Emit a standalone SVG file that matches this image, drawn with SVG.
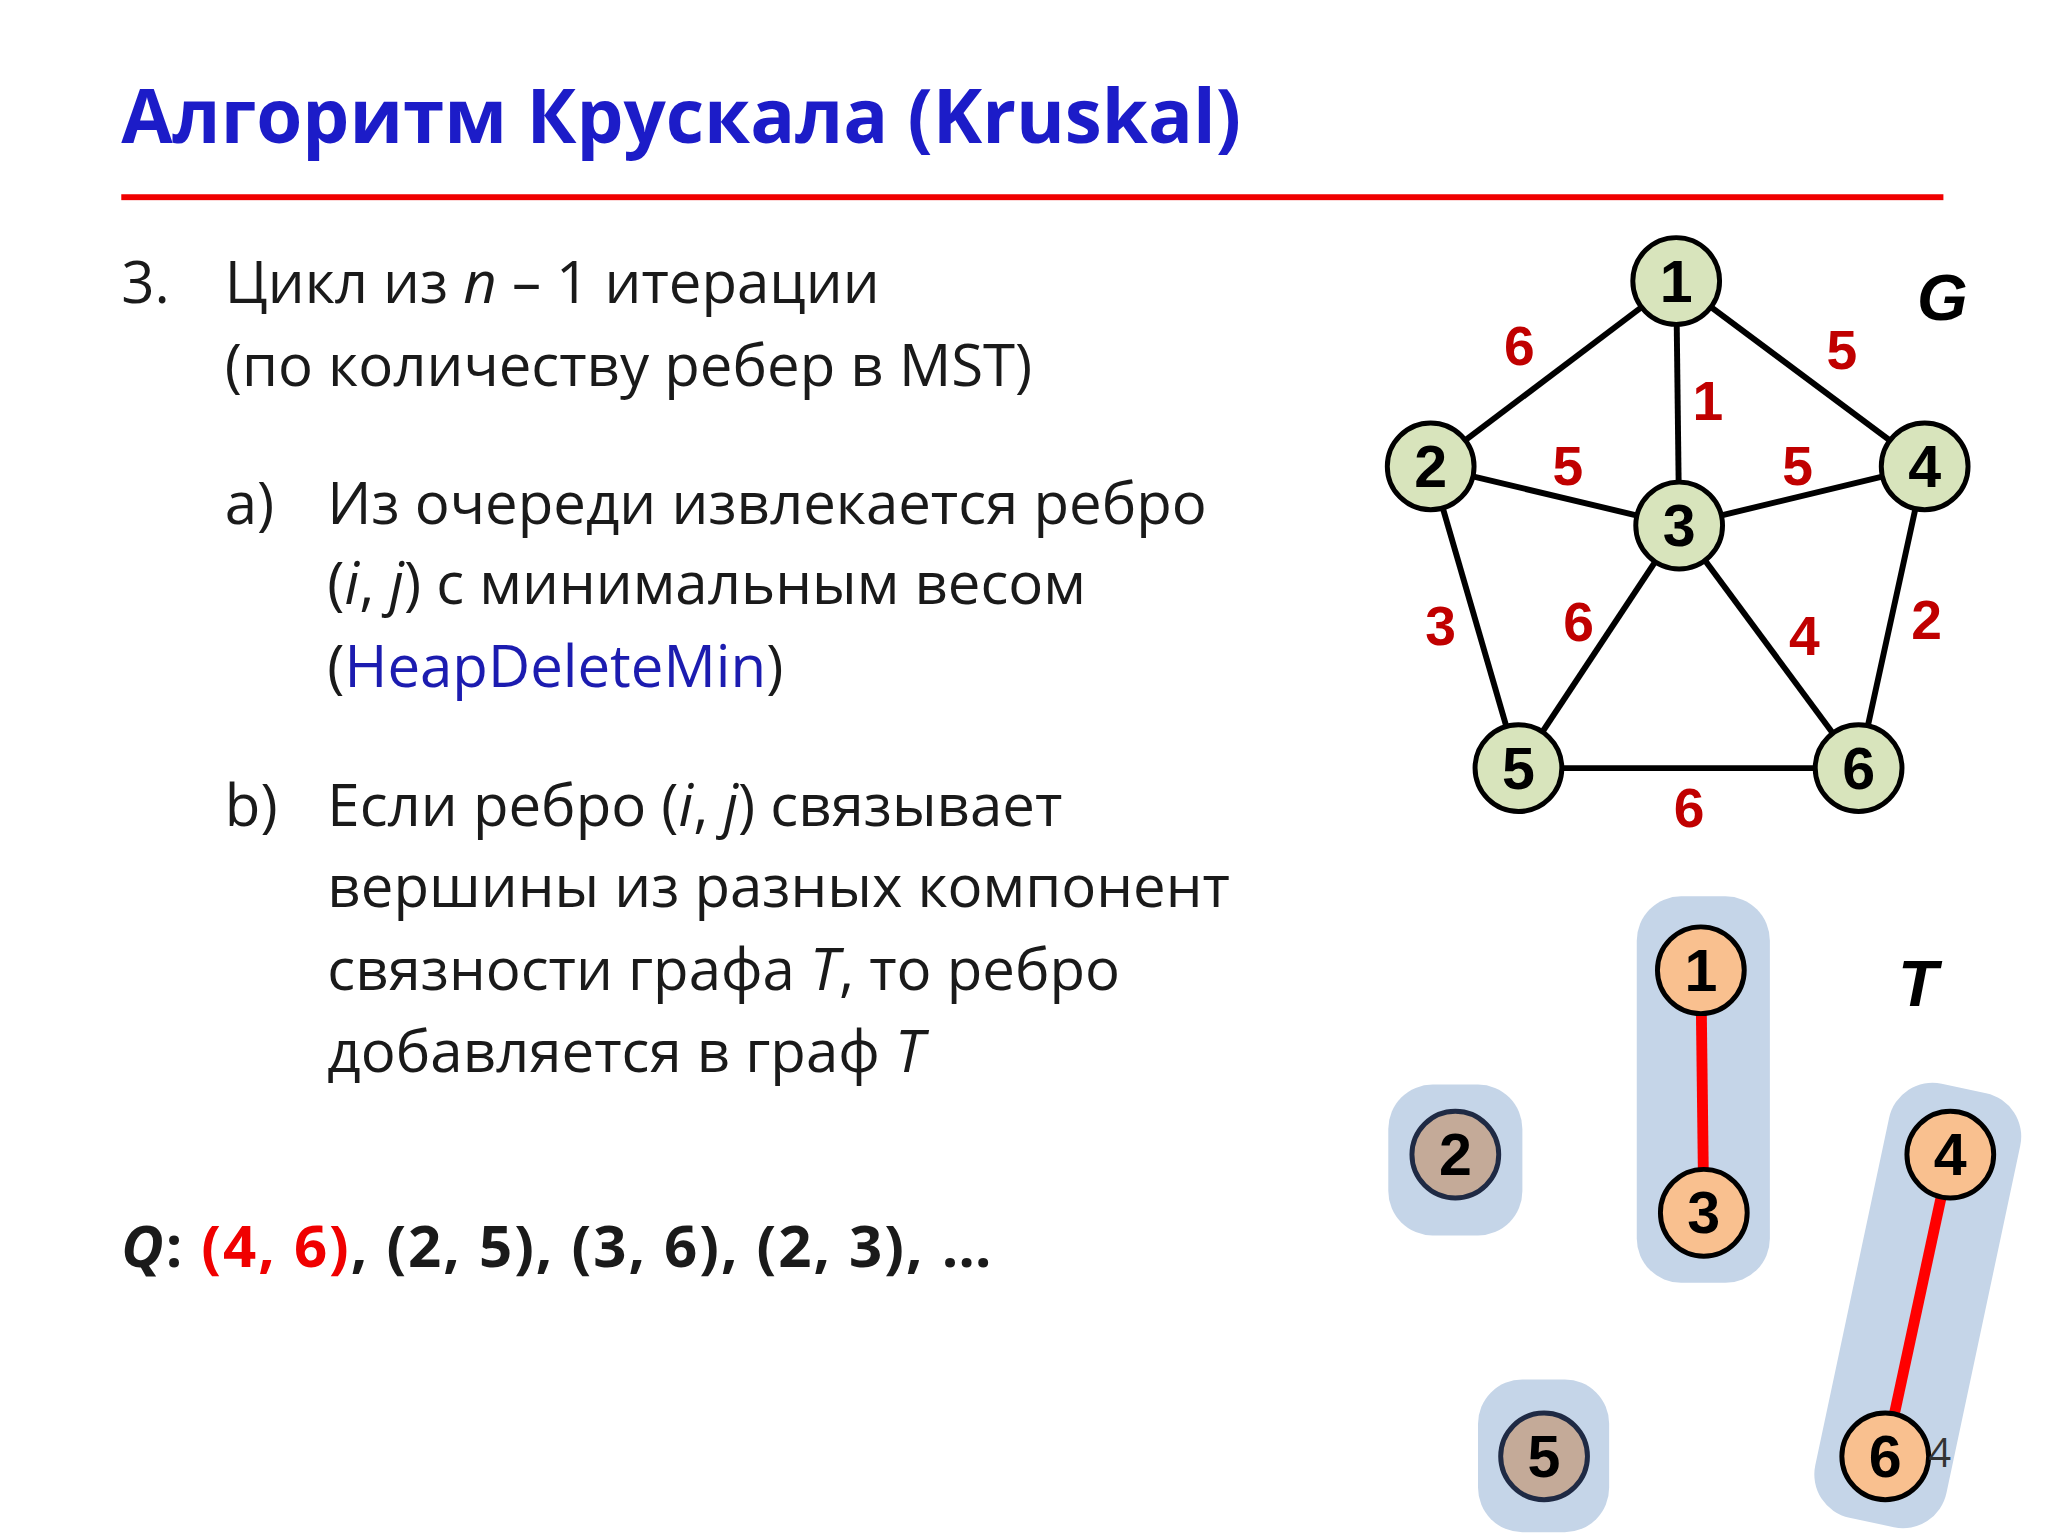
<svg xmlns="http://www.w3.org/2000/svg" width="2048" height="1536" viewBox="0 0 2048 1536">
<style>
.t{font-family:"Open Sans","Liberation Sans",sans-serif;font-size:59px;fill:#1a1a1a}
.w{font-family:"Liberation Sans",sans-serif;font-size:56px;font-weight:bold;fill:#c00000;text-anchor:middle;dominant-baseline:central}
.n{font-family:"Liberation Sans",sans-serif;font-size:60px;font-weight:bold;fill:#000;text-anchor:middle;dominant-baseline:central}
.g{fill:#d8e4bc;stroke:#000;stroke-width:5}
.o{fill:#f9c08f;stroke:#000;stroke-width:5}
.b{fill:#c4aa98;stroke:#1f2a44;stroke-width:5}
.e{stroke:#000;stroke-width:6}
.r{stroke:#ff0000;stroke-width:11}
.bg{fill:#c5d5e8}
</style>
<rect width="2048" height="1536" fill="#fff"/>
<g transform="scale(0.986)">
<text x="123" y="145" font-family="Open Sans,Liberation Sans,sans-serif" font-size="75.5" font-weight="bold" fill="#1c1cc8">Алгоритм Крускала (Kruskal)</text>
<rect x="123" y="197" width="1848" height="6" fill="#f00000"/>
<text class="t" x="123" y="307">3.</text>
<text class="t" x="228" y="307">Цикл из <tspan font-style="italic">n</tspan> – 1 итерации</text>
<text class="t" x="228" y="391">(по количеству ребер в MST)</text>
<text class="t" x="228" y="531">a)</text>
<text class="t" x="332" y="531">Из очереди извлекается ребро</text>
<text class="t" x="332" y="613">(<tspan font-style="italic">i</tspan>, <tspan font-style="italic">j</tspan>) с минимальным весом</text>
<text class="t" x="332" y="697">(<tspan fill="#1c1cb0">HeapDeleteMin</tspan>)</text>
<text class="t" x="228" y="838">b)</text>
<text class="t" x="332" y="838">Если ребро (<tspan font-style="italic">i</tspan>, <tspan font-style="italic">j</tspan>) связывает</text>
<text class="t" x="332" y="920">вершины из разных компонент</text>
<text class="t" x="332" y="1004">связности графа <tspan font-style="italic">T</tspan>, то ребро</text>
<text class="t" x="332" y="1087">добавляется в граф <tspan font-style="italic">T</tspan></text>
<text class="t" x="123" y="1285" font-weight="bold" font-size="62" letter-spacing="2"><tspan font-style="italic">Q</tspan>: <tspan fill="#f00000">(4, 6)</tspan>, (2, 5), (3, 6), (2, 3), …</text>
<g id="connectors">
<line class="e" x1="1700" y1="285" x2="1451" y2="473"/>
<line class="e" x1="1700" y1="285" x2="1952" y2="473"/>
<line class="e" x1="1700" y1="285" x2="1703" y2="533"/>
<line class="e" x1="1451" y1="473" x2="1703" y2="533"/>
<line class="e" x1="1952" y1="473" x2="1703" y2="533"/>
<line class="e" x1="1451" y1="473" x2="1540" y2="779"/>
<line class="e" x1="1703" y1="533" x2="1540" y2="779"/>
<line class="e" x1="1703" y1="533" x2="1885" y2="779"/>
<line class="e" x1="1952" y1="473" x2="1885" y2="779"/>
<line class="e" x1="1540" y1="779" x2="1885" y2="779"/>
</g>
<g id="weights">
<text class="w" x="1541" y="351">6</text>
<text class="w" x="1868" y="355">5</text>
<text class="w" x="1732" y="407">1</text>
<text class="w" x="1590" y="473">5</text>
<text class="w" x="1823" y="473">5</text>
<text class="w" x="1461" y="635">3</text>
<text class="w" x="1601" y="631">6</text>
<text class="w" x="1830" y="645">4</text>
<text class="w" x="1954" y="629">2</text>
<text class="w" x="1713" y="819">6</text>
</g>
<text x="1970" y="325" font-family="Liberation Sans,sans-serif" font-size="66" font-weight="bold" font-style="italic" text-anchor="middle">G</text>
<g id="g1"><circle class="g" cx="1700" cy="285" r="44"/><text class="n" x="1700" y="285">1</text></g>
<g id="g2"><circle class="g" cx="1451" cy="473" r="44"/><text class="n" x="1451" y="473">2</text></g>
<g id="g3"><circle class="g" cx="1703" cy="533" r="44"/><text class="n" x="1703" y="533">3</text></g>
<g id="g4"><circle class="g" cx="1952" cy="473" r="44"/><text class="n" x="1952" y="473">4</text></g>
<g id="g5"><circle class="g" cx="1540" cy="779" r="44"/><text class="n" x="1540" y="779">5</text></g>
<g id="g6"><circle class="g" cx="1885" cy="779" r="44"/><text class="n" x="1885" y="779">6</text></g>
<g id="components">
<rect class="bg" x="1660" y="909" width="135" height="392" rx="45"/>
<rect class="bg" x="1408" y="1100" width="136" height="153" rx="45"/>
<rect class="bg" x="1499" y="1399" width="133" height="155" rx="45"/>
<rect class="bg" x="1877" y="1099" width="136" height="450" rx="45" transform="rotate(12 1945 1324)"/>
</g>
<text x="1945" y="1020" font-family="Liberation Sans,sans-serif" font-size="66" font-weight="bold" font-style="italic" text-anchor="middle">T</text>
<g id="tree-edges">
<line class="r" x1="1725" y1="984" x2="1728" y2="1230"/>
<line class="r" x1="1978" y1="1171" x2="1912" y2="1477"/>
</g>
<g id="t1"><circle class="o" cx="1725" cy="984" r="44"/><text class="n" x="1725" y="984">1</text></g>
<g id="t3"><circle class="o" cx="1728" cy="1230" r="44"/><text class="n" x="1728" y="1230">3</text></g>
<g id="t2"><circle class="b" cx="1476" cy="1171" r="44"/><text class="n" x="1476" y="1171" fill="#1f2a44">2</text></g>
<g id="t4"><circle class="o" cx="1978" cy="1171" r="44"/><text class="n" x="1978" y="1171">4</text></g>
<g id="t5"><circle class="b" cx="1566" cy="1477" r="44"/><text class="n" x="1566" y="1477" fill="#1f2a44">5</text></g>
<g id="t6"><circle class="o" cx="1912" cy="1477" r="44"/><text class="n" x="1912" y="1477">6</text></g>
<text x="1956" y="1488" font-family="Open Sans,Liberation Sans,sans-serif" font-size="40" fill="#333">4</text>
</g>
</svg>
